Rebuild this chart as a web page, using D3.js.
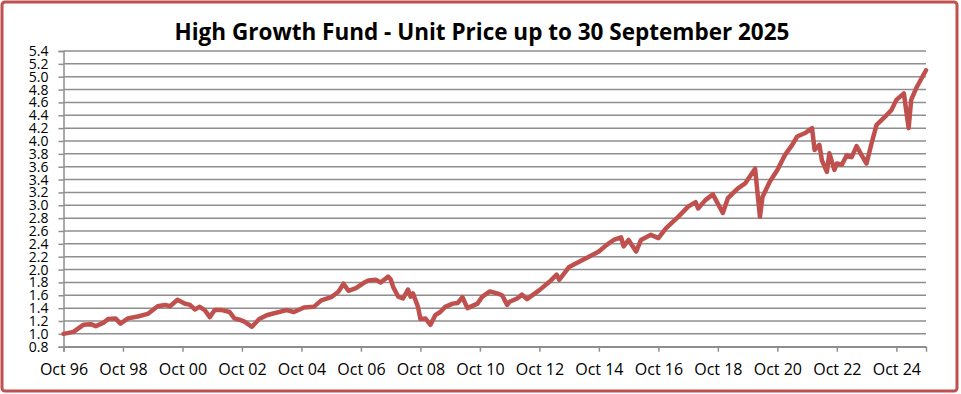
<!DOCTYPE html>
<html>
<head>
<meta charset="utf-8">
<script src="https://cdn.jsdelivr.net/npm/d3@7"></script>
<style>
  body { margin: 0; background: #fff; }
  svg { display: block; font-family: "Open Sans", sans-serif; }
</style>
</head>
<body>
<svg id="chart"></svg>
<script>
// unit price (month -> price)
var priceDates = [
  "1996-10","1997-02","1997-06","1997-09","1997-11","1998-02","1998-04","1998-07","1998-09","1998-12",
  "1999-04","1999-08","1999-12","2000-03","2000-05","2000-08","2000-11","2001-01","2001-03","2001-05",
  "2001-07","2001-09","2001-11","2002-02","2002-05","2002-07","2002-09","2002-11","2003-02","2003-05",
  "2003-08","2003-11","2004-04","2004-07","2004-11","2005-03","2005-06","2005-10","2006-01","2006-03",
  "2006-05","2006-08","2006-11","2007-01","2007-04","2007-06","2007-09","2007-10","2007-11","2008-01",
  "2008-03","2008-05","2008-06","2008-07","2008-09","2008-10","2008-12","2009-02","2009-04","2009-06",
  "2009-08","2009-11","2010-01","2010-03","2010-05","2010-09","2010-11","2011-02","2011-05","2011-07",
  "2011-09","2011-10","2012-01","2012-03","2012-05","2012-10","2013-02","2013-05","2013-06","2013-10",
  "2014-02","2014-06","2014-10","2015-01","2015-04","2015-07","2015-08","2015-10","2016-01","2016-03",
  "2016-07","2016-10","2017-01","2017-06","2017-10","2018-01","2018-02","2018-05","2018-08","2018-12",
  "2019-02","2019-06","2019-09","2020-01","2020-03","2020-04","2020-07","2020-10","2021-01","2021-04",
  "2021-06","2021-09","2021-12","2022-01","2022-03","2022-04","2022-06","2022-07","2022-09","2022-10",
  "2022-12","2023-02","2023-04","2023-06","2023-08","2023-10","2023-12","2024-02","2024-06","2024-08",
  "2024-10","2025-01","2025-03","2025-04","2025-06","2025-09"
];
var priceValues = [
  1.00,1.03,1.14,1.15,1.12,1.17,1.23,1.24,1.16,1.24,
  1.27,1.31,1.43,1.45,1.43,1.53,1.47,1.45,1.38,1.42,
  1.37,1.26,1.37,1.37,1.34,1.24,1.22,1.19,1.11,1.23,
  1.29,1.32,1.37,1.34,1.41,1.42,1.52,1.57,1.66,1.78,
  1.67,1.71,1.79,1.83,1.84,1.80,1.89,1.85,1.73,1.58,
  1.55,1.69,1.58,1.63,1.42,1.23,1.24,1.14,1.29,1.34,
  1.42,1.47,1.48,1.57,1.40,1.47,1.58,1.66,1.63,1.60,
  1.45,1.50,1.55,1.61,1.54,1.68,1.81,1.92,1.84,2.04,
  2.12,2.20,2.28,2.38,2.46,2.50,2.36,2.46,2.28,2.46,
  2.54,2.49,2.64,2.82,2.98,3.05,2.95,3.08,3.17,2.88,
  3.11,3.26,3.34,3.57,2.82,3.13,3.37,3.55,3.78,3.94,
  4.07,4.12,4.20,3.86,3.94,3.70,3.52,3.81,3.55,3.65,
  3.63,3.78,3.75,3.92,3.78,3.65,3.96,4.25,4.40,4.48,
  4.64,4.74,4.20,4.64,4.82,5.10
];
var yTicks = [0.8,1.0,1.2,1.4,1.6,1.8,2.0,2.2,2.4,2.6,2.8,3.0,3.2,3.4,3.6,3.8,4.0,4.2,4.4,4.6,4.8,5.0,5.2,5.4];
var xTickYears = [1996,1998,2000,2002,2004,2006,2008,2010,2012,2014,2016,2018,2020,2022,2024];
var xTickLabels = ["Oct 96","Oct 98","Oct 00","Oct 02","Oct 04","Oct 06","Oct 08","Oct 10","Oct 12","Oct 14","Oct 16","Oct 18","Oct 20","Oct 22","Oct 24"];
var title = "High Growth Fund - Unit Price up to 30 September 2025";

var width = 961, height = 394;
var svg = d3.select("#chart").attr("width", width).attr("height", height);

// outer frame
svg.append("rect").attr("x", 2).attr("y", 2).attr("width", 955).attr("height", 389)
  .attr("rx", 3).attr("fill", "#fff").attr("stroke", "#C0504D").attr("stroke-width", 3);

var parse = d3.timeParse("%Y-%m");
var data = priceDates.map(function(d, i){ return {date: parse(d), value: priceValues[i]}; });
data[data.length - 1].date = new Date(2025, 8, 30);

var x = d3.scaleTime().domain([new Date(1996, 9, 1), new Date(2025, 8, 30)]).range([63.5, 926]);
var y = d3.scaleLinear().domain([0.8, 5.4]).range([346.7, 51]);

// horizontal gridlines
svg.append("g").selectAll("line").data(yTicks).enter().append("line")
  .attr("x1", x.range()[0]).attr("x2", x.range()[1])
  .attr("y1", function(d){ return y(d); }).attr("y2", function(d){ return y(d); })
  .attr("stroke", "#8e8e8e").attr("stroke-width", 1.5);

// y axis
var yAxis = svg.append("g").attr("transform", "translate(" + x.range()[0] + ",0)")
  .call(d3.axisLeft(y).tickValues(yTicks).tickFormat(d3.format(".1f")).tickSize(5).tickPadding(10));
yAxis.select(".domain").attr("stroke", "#8e8e8e").attr("stroke-width", 1.5);
yAxis.selectAll(".tick line").attr("stroke", "#8e8e8e").attr("stroke-width", 1.5);
yAxis.selectAll("text").attr("font-size", 14).attr("fill", "#000").attr("font-family", "Open Sans, sans-serif");

// x axis
var xTickDates = xTickYears.map(function(yr){ return new Date(yr, 9, 1); });
var xAxis = svg.append("g").attr("transform", "translate(0," + y(0.8) + ")")
  .call(d3.axisBottom(x).tickValues(xTickDates)
    .tickFormat(function(d, i){ return xTickLabels[i]; }).tickSize(5).tickPadding(12));
xAxis.select(".domain").attr("stroke", "#8e8e8e").attr("stroke-width", 1.5);
xAxis.selectAll(".tick line").attr("stroke", "#8e8e8e").attr("stroke-width", 1.5);
xAxis.selectAll("text").attr("font-size", 16).attr("fill", "#000").attr("font-family", "Open Sans, sans-serif");

// price line
var line = d3.line().x(function(d){ return x(d.date); }).y(function(d){ return y(d.value); });
svg.append("path").datum(data).attr("d", line)
  .attr("fill", "none").attr("stroke", "#C0504D").attr("stroke-width", 4.5)
  .attr("stroke-linejoin", "round").attr("stroke-linecap", "round");

// title
svg.append("text").attr("x", 482).attr("y", 40).attr("text-anchor", "middle")
  .attr("font-size", 22.5).attr("font-weight", "bold").attr("fill", "#000")
  .text(title);
</script>
</body>
</html>
